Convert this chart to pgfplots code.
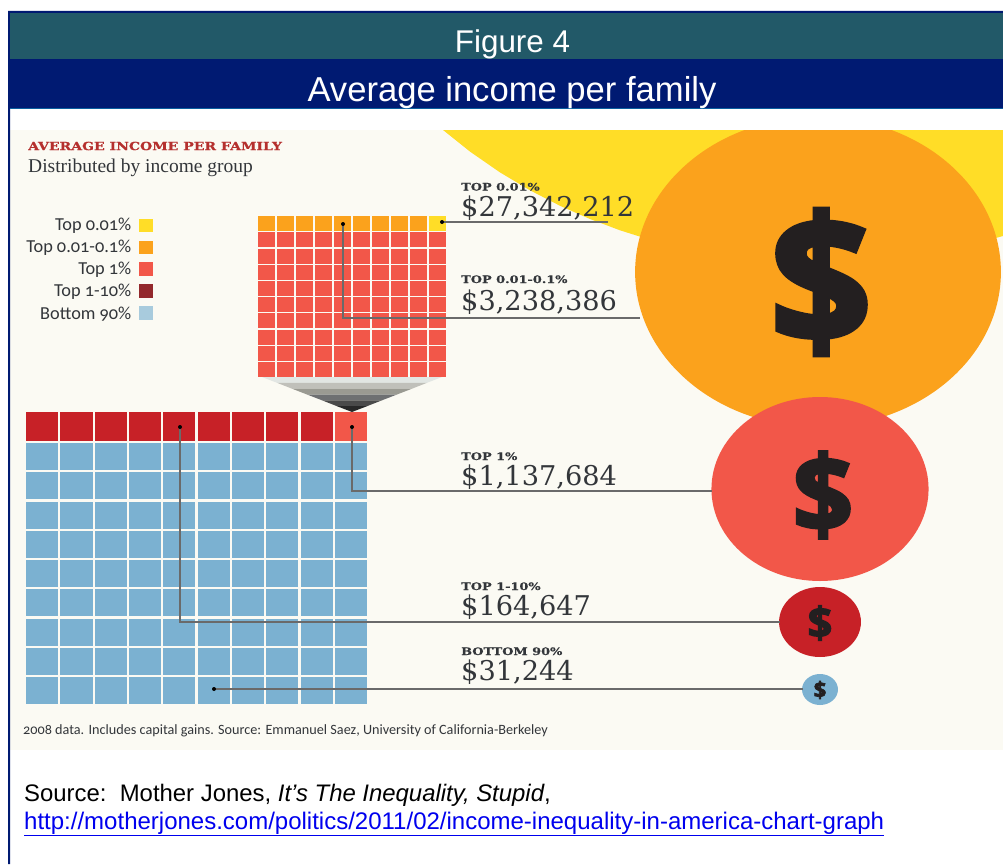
\documentclass[border=0pt]{standalone}
\usepackage{pgfplots}
\pgfplotsset{compat=1.18}
\usepackage{fontspec}
\setmainfont{Liberation Sans}
\newfontfamily\lgfont[Numbers=OldStyle]{Carlito}
\newfontfamily\slab{DejaVu Serif}
\newfontfamily\slabw[FakeStretch=1.25,FakeBold=0.6]{DejaVu Serif Bold}
\newfontfamily\body{Liberation Serif}
\newfontfamily\dollarfont[BoldFeatures={FakeBold=3}]{Open Sans}
\definecolor{bgc}{HTML}{FBFAF3}
\definecolor{cyel}{HTML}{FFDD27}
\definecolor{cora}{HTML}{FBA21C}
\definecolor{cred}{HTML}{F25749}
\definecolor{cdrk}{HTML}{C72127}
\definecolor{cblu}{HTML}{7BB1D1}
\definecolor{teal1}{HTML}{225968}
\definecolor{navy1}{HTML}{001A72}
\definecolor{rule1}{HTML}{0A5FA0}
\definecolor{linec}{HTML}{6A6A6A}
\definecolor{txt}{HTML}{33363A}
\definecolor{f1}{HTML}{E2E6E3}
\definecolor{f2}{HTML}{C0C0BA}
\definecolor{f3}{HTML}{9A9A92}
\definecolor{f4}{HTML}{6E7072}
\definecolor{f5}{HTML}{4A4A4A}
\definecolor{f6}{HTML}{282828}
\definecolor{lg4}{HTML}{93282C}
\definecolor{lg5}{HTML}{A8CBDD}
\definecolor{headc}{HTML}{B5302E}
\definecolor{dol}{HTML}{231F20}
\definecolor{urlc}{HTML}{0000EE}
\pgfdeclareplotmark{fsq}{\pgfpathrectangle{\pgfqpoint{-\pgfplotmarksize}{-\pgfplotmarksize}}{\pgfqpoint{2\pgfplotmarksize}{2\pgfplotmarksize}}\pgfusepathqfill}
\pgfdeclareplotmark{fdisc}{\pgfpathcircle{\pgfpointorigin}{\pgfplotmarksize}\pgfusepathqfill}
\begin{document}
\begin{tikzpicture}
\begin{axis}[
  hide axis, clip=true, clip marker paths=true, scale only axis,
  x=1pt, y=1pt, y dir=reverse,
  xmin=0, xmax=1003, ymin=0, ymax=864,
  every axis plot/.append style={forget plot},
  blk/.style={draw=none, fill=#1, line width=0pt, no marks},
  ldr/.style={draw=linec, line width=1.4pt, no marks},
  cell/.style n args={3}{only marks, mark=fsq, mark size=#2pt,
     mark options={fill=#1, xscale=#3}},
  disc/.style n args={3}{only marks, mark=fdisc, mark size=#2pt,
     mark options={fill=#1, xscale=#3}},
]
% page and picture background
\addplot[blk=white] coordinates {(0,0)(1003,0)(1003,864)(0,864)} --cycle;
\addplot[blk=bgc] coordinates {(10,130)(1003,130)(1003,750)(10,750)} --cycle;
% yellow circle (visible rim)
\addplot[blk=cyel] coordinates {(443,130)(470,151.6)(500,172.4)(530,190.3)(560,205.8)(590,219)(620,230.3)(650,239.8)(820,263)(985,241)(1003,236)(1003,130)} --cycle;
% discs
\addplot[disc={cora}{155}{1.18}] coordinates {(818,272)};
\addplot[disc={cred}{92}{1.18}] coordinates {(820,489)};
\addplot[disc={cdrk}{35}{1.17}] coordinates {(820,622)};
\addplot[disc={cblu}{15.5}{1.16}] coordinates {(820,689.5)};
% cover above picture
\addplot[blk=white] coordinates {(10,109)(1003,109)(1003,130)(10,130)} --cycle;
% title bands
\addplot[blk=navy1] coordinates {(8,11)(1003,11)(1003,13)(10,13)(10,864)(8,864)} --cycle;
\addplot[blk=teal1] coordinates {(10,13)(1003,13)(1003,59)(10,59)} --cycle;
\addplot[blk=navy1] coordinates {(10,59)(1003,59)(1003,108)(10,108)} --cycle;
\addplot[blk=rule1] coordinates {(10,108)(1003,108)(1003,109.5)(10,109.5)} --cycle;
% top waffle
\addplot[cell={cora}{7.6}{1.165}] coordinates {(266.5,223.4)(285.5,223.4)(304.5,223.4)(323.5,223.4)(342.5,223.4)(361.5,223.4)(380.5,223.4)(399.5,223.4)(418.5,223.4)};
\addplot[cell={cyel}{7.6}{1.165}] coordinates {(437.5,223.4)};
\addplot[cell={cred}{7.5}{1.18}] coordinates {
(266.5,239.8)(285.5,239.8)(304.5,239.8)(323.5,239.8)(342.5,239.8)(361.5,239.8)(380.5,239.8)(399.5,239.8)(418.5,239.8)(437.5,239.8)
(266.5,256)(285.5,256)(304.5,256)(323.5,256)(342.5,256)(361.5,256)(380.5,256)(399.5,256)(418.5,256)(437.5,256)
(266.5,272.2)(285.5,272.2)(304.5,272.2)(323.5,272.2)(342.5,272.2)(361.5,272.2)(380.5,272.2)(399.5,272.2)(418.5,272.2)(437.5,272.2)
(266.5,288.4)(285.5,288.4)(304.5,288.4)(323.5,288.4)(342.5,288.4)(361.5,288.4)(380.5,288.4)(399.5,288.4)(418.5,288.4)(437.5,288.4)
(266.5,304.6)(285.5,304.6)(304.5,304.6)(323.5,304.6)(342.5,304.6)(361.5,304.6)(380.5,304.6)(399.5,304.6)(418.5,304.6)(437.5,304.6)
(266.5,320.8)(285.5,320.8)(304.5,320.8)(323.5,320.8)(342.5,320.8)(361.5,320.8)(380.5,320.8)(399.5,320.8)(418.5,320.8)(437.5,320.8)
(266.5,337)(285.5,337)(304.5,337)(323.5,337)(342.5,337)(361.5,337)(380.5,337)(399.5,337)(418.5,337)(437.5,337)
(266.5,353.2)(285.5,353.2)(304.5,353.2)(323.5,353.2)(342.5,353.2)(361.5,353.2)(380.5,353.2)(399.5,353.2)(418.5,353.2)(437.5,353.2)
(266.5,369.4)(285.5,369.4)(304.5,369.4)(323.5,369.4)(342.5,369.4)(361.5,369.4)(380.5,369.4)(399.5,369.4)(418.5,369.4)(437.5,369.4)};
% funnel
\addplot[blk=f1] coordinates {(262,377)(442,377)(427,382.8)(277,382.8)} --cycle;
\addplot[blk=f2] coordinates {(277,382.8)(427,382.8)(412,388.7)(292,388.7)} --cycle;
\addplot[blk=f3] coordinates {(292,388.7)(412,388.7)(397,394.5)(307,394.5)} --cycle;
\addplot[blk=f4] coordinates {(307,394.5)(397,394.5)(382,400.3)(322,400.3)} --cycle;
\addplot[blk=f5] coordinates {(322,400.3)(382,400.3)(367,406.2)(337,406.2)} --cycle;
\addplot[blk=f6] coordinates {(337,406.2)(367,406.2)(352,412)(352,412)} --cycle;
% big waffle
\addplot[cell={cdrk}{14.5}{1.11}] coordinates {(42.2,426.5)(76.5,426.5)(110.8,426.5)(145.1,426.5)(179.4,426.5)(213.7,426.5)(248,426.5)(282.3,426.5)(316.6,426.5)};
\addplot[cell={cred}{14.5}{1.11}] coordinates {(350.9,426.5)};
\addplot[cell={cblu}{13.5}{1.19}] coordinates {
(42.2,456.6)(76.5,456.6)(110.8,456.6)(145.1,456.6)(179.4,456.6)(213.7,456.6)(248,456.6)(282.3,456.6)(316.6,456.6)(350.9,456.6)
(42.2,485.9)(76.5,485.9)(110.8,485.9)(145.1,485.9)(179.4,485.9)(213.7,485.9)(248,485.9)(282.3,485.9)(316.6,485.9)(350.9,485.9)
(42.2,515.1)(76.5,515.1)(110.8,515.1)(145.1,515.1)(179.4,515.1)(213.7,515.1)(248,515.1)(282.3,515.1)(316.6,515.1)(350.9,515.1)
(42.2,544.4)(76.5,544.4)(110.8,544.4)(145.1,544.4)(179.4,544.4)(213.7,544.4)(248,544.4)(282.3,544.4)(316.6,544.4)(350.9,544.4)
(42.2,573.6)(76.5,573.6)(110.8,573.6)(145.1,573.6)(179.4,573.6)(213.7,573.6)(248,573.6)(282.3,573.6)(316.6,573.6)(350.9,573.6)
(42.2,602.8)(76.5,602.8)(110.8,602.8)(145.1,602.8)(179.4,602.8)(213.7,602.8)(248,602.8)(282.3,602.8)(316.6,602.8)(350.9,602.8)
(42.2,632)(76.5,632)(110.8,632)(145.1,632)(179.4,632)(213.7,632)(248,632)(282.3,632)(316.6,632)(350.9,632)
(42.2,661.2)(76.5,661.2)(110.8,661.2)(145.1,661.2)(179.4,661.2)(213.7,661.2)(248,661.2)(282.3,661.2)(316.6,661.2)(350.9,661.2)
(42.2,690.3)(76.5,690.3)(110.8,690.3)(145.1,690.3)(179.4,690.3)(213.7,690.3)(248,690.3)(282.3,690.3)(316.6,690.3)(350.9,690.3)};
% legend swatches
\addplot[cell={cyel}{6.7}{1.05}] coordinates {(146,225.5)};
\addplot[cell={cora}{6.7}{1.05}] coordinates {(146,247.5)};
\addplot[cell={cred}{6.7}{1.05}] coordinates {(146,269)};
\addplot[cell={lg4}{6.7}{1.05}] coordinates {(146,291)};
\addplot[cell={lg5}{6.7}{1.05}] coordinates {(146,313)};
% leader lines
\addplot[ldr] coordinates {(442,222)(608,222)};
\addplot[ldr] coordinates {(343,224)(343,318)(640,318)};
\addplot[ldr] coordinates {(352,427)(352,491)(712,491)};
\addplot[ldr] coordinates {(180,427)(180,622)(780,622)};
\addplot[ldr] coordinates {(214,689)(803,689)};
\addplot[only marks, mark=fdisc, mark size=2pt, mark options={fill=black}] coordinates {(442,222)(343,224)(352,427)(180,427)(214,689)};
% titles
\node[white, font=\fontsize{31.4}{32}\selectfont, anchor=center] at (axis cs:512.5,44) {Figure 4};
\node[white, font=\fontsize{34.6}{36}\selectfont, anchor=center] at (axis cs:512,93) {Average income per family};
% heading
\node[anchor=west, inner sep=0pt, text=headc, font=\slabw\fontsize{11.2}{13}\selectfont] at (axis cs:28,146) {AVERAGE INCOME PER FAMILY};
\node[anchor=west, inner sep=0pt, text=txt, font=\body\fontsize{19.5}{20}\selectfont] at (axis cs:28,168) {Distributed by income group};
% legend text
\node[anchor=east, inner sep=0pt, text=txt, font=\lgfont\fontsize{18.3}{19}\selectfont] at (axis cs:131.5,226) {Top 0.01\%};
\node[anchor=east, inner sep=0pt, text=txt, font=\lgfont\fontsize{18.3}{19}\selectfont] at (axis cs:131.5,248) {Top 0.01-0.1\%};
\node[anchor=east, inner sep=0pt, text=txt, font=\lgfont\fontsize{18.3}{19}\selectfont] at (axis cs:131.5,270) {Top 1\%};
\node[anchor=east, inner sep=0pt, text=txt, font=\lgfont\fontsize{18.3}{19}\selectfont] at (axis cs:131.5,292) {Top 1-10\%};
\node[anchor=east, inner sep=0pt, text=txt, font=\lgfont\fontsize{18.3}{19}\selectfont] at (axis cs:131.5,314) {Bottom 90\%};
% value labels
\node[anchor=base west, inner sep=0pt, text=txt, font=\slabw\fontsize{10.3}{12}\selectfont] at (axis cs:461,190.5) {TOP 0.01\%};
\node[anchor=base west, inner sep=0pt, text=txt, font=\slab\fontsize{27.2}{28}\selectfont] at (axis cs:461,216) {\$27,342,212};
\node[anchor=base west, inner sep=0pt, text=txt, font=\slabw\fontsize{10.3}{12}\selectfont] at (axis cs:461,283) {TOP 0.01-0.1\%};
\node[anchor=base west, inner sep=0pt, text=txt, font=\slab\fontsize{27.2}{28}\selectfont] at (axis cs:461,310) {\$3,238,386};
\node[anchor=base west, inner sep=0pt, text=txt, font=\slabw\fontsize{10.3}{12}\selectfont] at (axis cs:461,460) {TOP 1\%};
\node[anchor=base west, inner sep=0pt, text=txt, font=\slab\fontsize{27.2}{28}\selectfont] at (axis cs:461,485) {\$1,137,684};
\node[anchor=base west, inner sep=0pt, text=txt, font=\slabw\fontsize{10.3}{12}\selectfont] at (axis cs:461,590) {TOP 1-10\%};
\node[anchor=base west, inner sep=0pt, text=txt, font=\slab\fontsize{27.2}{28}\selectfont] at (axis cs:461,615) {\$164,647};
\node[anchor=base west, inner sep=0pt, text=txt, font=\slabw\fontsize{10.3}{12}\selectfont] at (axis cs:461,655) {BOTTOM 90\%};
\node[anchor=base west, inner sep=0pt, text=txt, font=\slab\fontsize{27.2}{28}\selectfont] at (axis cs:461,680) {\$31,244};
% dollar signs
\node[text=dol, inner sep=0pt, font=\dollarfont\bfseries\fontsize{178}{190}\selectfont] at (axis cs:821,282) {\$};
\node[text=dol, inner sep=0pt, font=\dollarfont\bfseries\fontsize{106}{116}\selectfont] at (axis cs:823,495) {\$};
\node[text=dol, inner sep=0pt, font=\dollarfont\bfseries\fontsize{43}{46}\selectfont] at (axis cs:820,623) {\$};
\node[text=dol, inner sep=0pt, font=\dollarfont\bfseries\fontsize{22}{24}\selectfont] at (axis cs:820,690) {\$};
% footer
\node[anchor=west, inner sep=0pt, text=txt, font=\lgfont\fontsize{14.2}{15}\selectfont] at (axis cs:23,731) {2008 data. Includes capital gains. Source: Emmanuel Saez, University of California-Berkeley};
\node[anchor=base west, inner sep=0pt, text=black, font=\fontsize{23.9}{26}\selectfont] at (axis cs:24,801) {Source:\ \ Mother Jones, \textit{It’s The Inequality, Stupid},};
\node[anchor=base west, inner sep=0pt, text=urlc, font=\fontsize{24}{26}\selectfont] at (axis cs:24,829) {\underline{http://motherjones.com/politics/2011/02/income-inequality-in-america-chart-graph}};
\end{axis}
\end{tikzpicture}
\end{document}
